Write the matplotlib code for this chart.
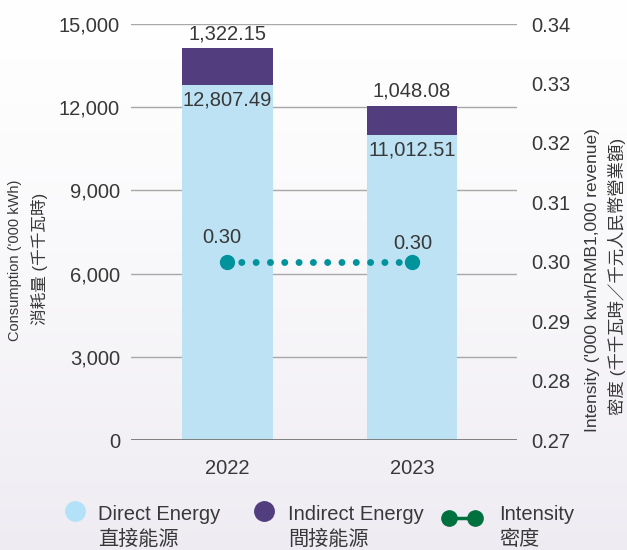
import numpy as np
import matplotlib.pyplot as plt

plt.rcParams['font.family'] = ['Liberation Sans', 'Noto Sans CJK TC', 'DejaVu Sans']

years = ['2022', '2023']
direct = [12807.49, 11012.51]
indirect = [1322.15, 1048.08]
intensity = [0.30, 0.30]
left_ticks = [0, 3000, 6000, 9000, 12000, 15000]
right_ticks = [0.27, 0.28, 0.29, 0.30, 0.31, 0.32, 0.33, 0.34]

c_direct = '#bce2f4'
c_indirect = '#523d7e'
c_int = '#00939b'
c_legend_int = '#00703f'
txt = '#383838'
fs = 14.5

fig = plt.figure(figsize=(6.27, 5.5), dpi=100)

# soft vertical gradient behind everything
bg = fig.add_axes([0, 0, 1, 1], zorder=-10)
grad = np.linspace(0, 1, 256).reshape(-1, 1)
top = np.array([1.0, 1.0, 1.0])
bot = np.array([0.935, 0.925, 0.95])
img = top + (bot - top) * grad[..., None] ** 1.3
bg.imshow(img, aspect='auto', extent=[0, 1, 0, 1])
bg.axis('off')

ax = fig.add_axes([131/627, 1-440/550, (517-131)/627, (440-24)/550])
ax.set_facecolor('none')
x = np.arange(len(years))
w = 0.493

for v in left_ticks[1:]:
    ax.axhline(v, color='#a8a8a8', lw=1, zorder=0)
ax.axhline(0, color='#777777', lw=1.3, zorder=3)

ax.bar(x, direct, w, color=c_direct, zorder=2)
ax.bar(x, indirect, w, bottom=direct, color=c_indirect, zorder=2)

for i in range(len(x)):
    tot = direct[i] + indirect[i]
    ax.text(x[i], tot + 180, f'{indirect[i]:,.2f}', ha='center', va='bottom',
            fontsize=fs, color=txt)
    ax.text(x[i], direct[i] - 220, f'{direct[i]:,.2f}', ha='center', va='top',
            fontsize=fs, color=txt)

ax.set_xlim(-0.523, 1.569)
ax.set_ylim(0, 15000)
ax.set_yticks(left_ticks)
ax.set_yticklabels([f'{v:,}' for v in left_ticks])
ax.set_xticks(x)
ax.set_xticklabels(years)
ax.tick_params(axis='both', length=0, labelsize=fs, colors=txt)
ax.tick_params(axis='x', pad=14)
ax.tick_params(axis='y', pad=8)
for s in ax.spines.values():
    s.set_visible(False)

ax2 = ax.twinx()
ax2.set_ylim(0.27, 0.34)
ax2.set_yticks(right_ticks)
ax2.set_yticklabels([f'{v:.2f}' for v in right_ticks])
ax2.tick_params(axis='y', length=0, labelsize=fs, colors=txt, pad=10)
for s in ax2.spines.values():
    s.set_visible(False)
ax2.plot(x, intensity, color=c_int, lw=5, linestyle=(0, (0.01, 2.05)),
         dash_capstyle='round', zorder=4)
ax2.plot(x, intensity, 'o', color=c_int, ms=10, zorder=5)
for i in range(len(x)):
    ax2.text(x[i] - (0.03 if i == 0 else -0.005), intensity[i] + (0.0025 if i == 0 else 0.0015),
             f'{intensity[i]:.2f}', ha='center', va='bottom', fontsize=fs, color=txt)

fig.text(15/627, 1-260/550, "Consumption ('000 kWh)", rotation=90, ha='center',
         va='center', fontsize=10.5, color=txt)
fig.text(39/627, 1-259/550, "消耗量 (千千瓦時)", rotation=90, ha='center',
         va='center', fontsize=12, color=txt)
fig.text(593/627, 1-280/550, "Intensity ('000 kwh/RMB1,000 revenue)", rotation=90,
         ha='center', va='center', fontsize=12.5, color=txt)
fig.text(617/627, 1-276/550, "密度 (千千瓦時／千元人民幣營業額)", rotation=90,
         ha='center', va='center', fontsize=12.5, color=txt)

# legend
lg = fig.add_axes([0, 0, 1, 1], zorder=5)
lg.set_xlim(0, 627)
lg.set_ylim(550, 0)
lg.axis('off')
lg.plot([75], [511], 'o', color='#b3e2f8', ms=14)
lg.plot([264], [511], 'o', color=c_indirect, ms=14)
lg.plot([449, 475], [518, 518], '-', color=c_legend_int, lw=2.5)
lg.plot([449, 475], [518, 518], 'o', color=c_legend_int, ms=11)
lg.text(98, 515, 'Direct Energy', fontsize=fs, color=txt, va='center')
lg.text(98, 539, '直接能源', fontsize=fs, color=txt, va='center')
lg.text(288, 515, 'Indirect Energy', fontsize=fs, color=txt, va='center')
lg.text(288, 539, '間接能源', fontsize=fs, color=txt, va='center')
lg.text(499, 515, 'Intensity', fontsize=fs, color=txt, va='center')
lg.text(499, 539, '密度', fontsize=fs, color=txt, va='center')

fig.savefig('out.png', dpi=100)
